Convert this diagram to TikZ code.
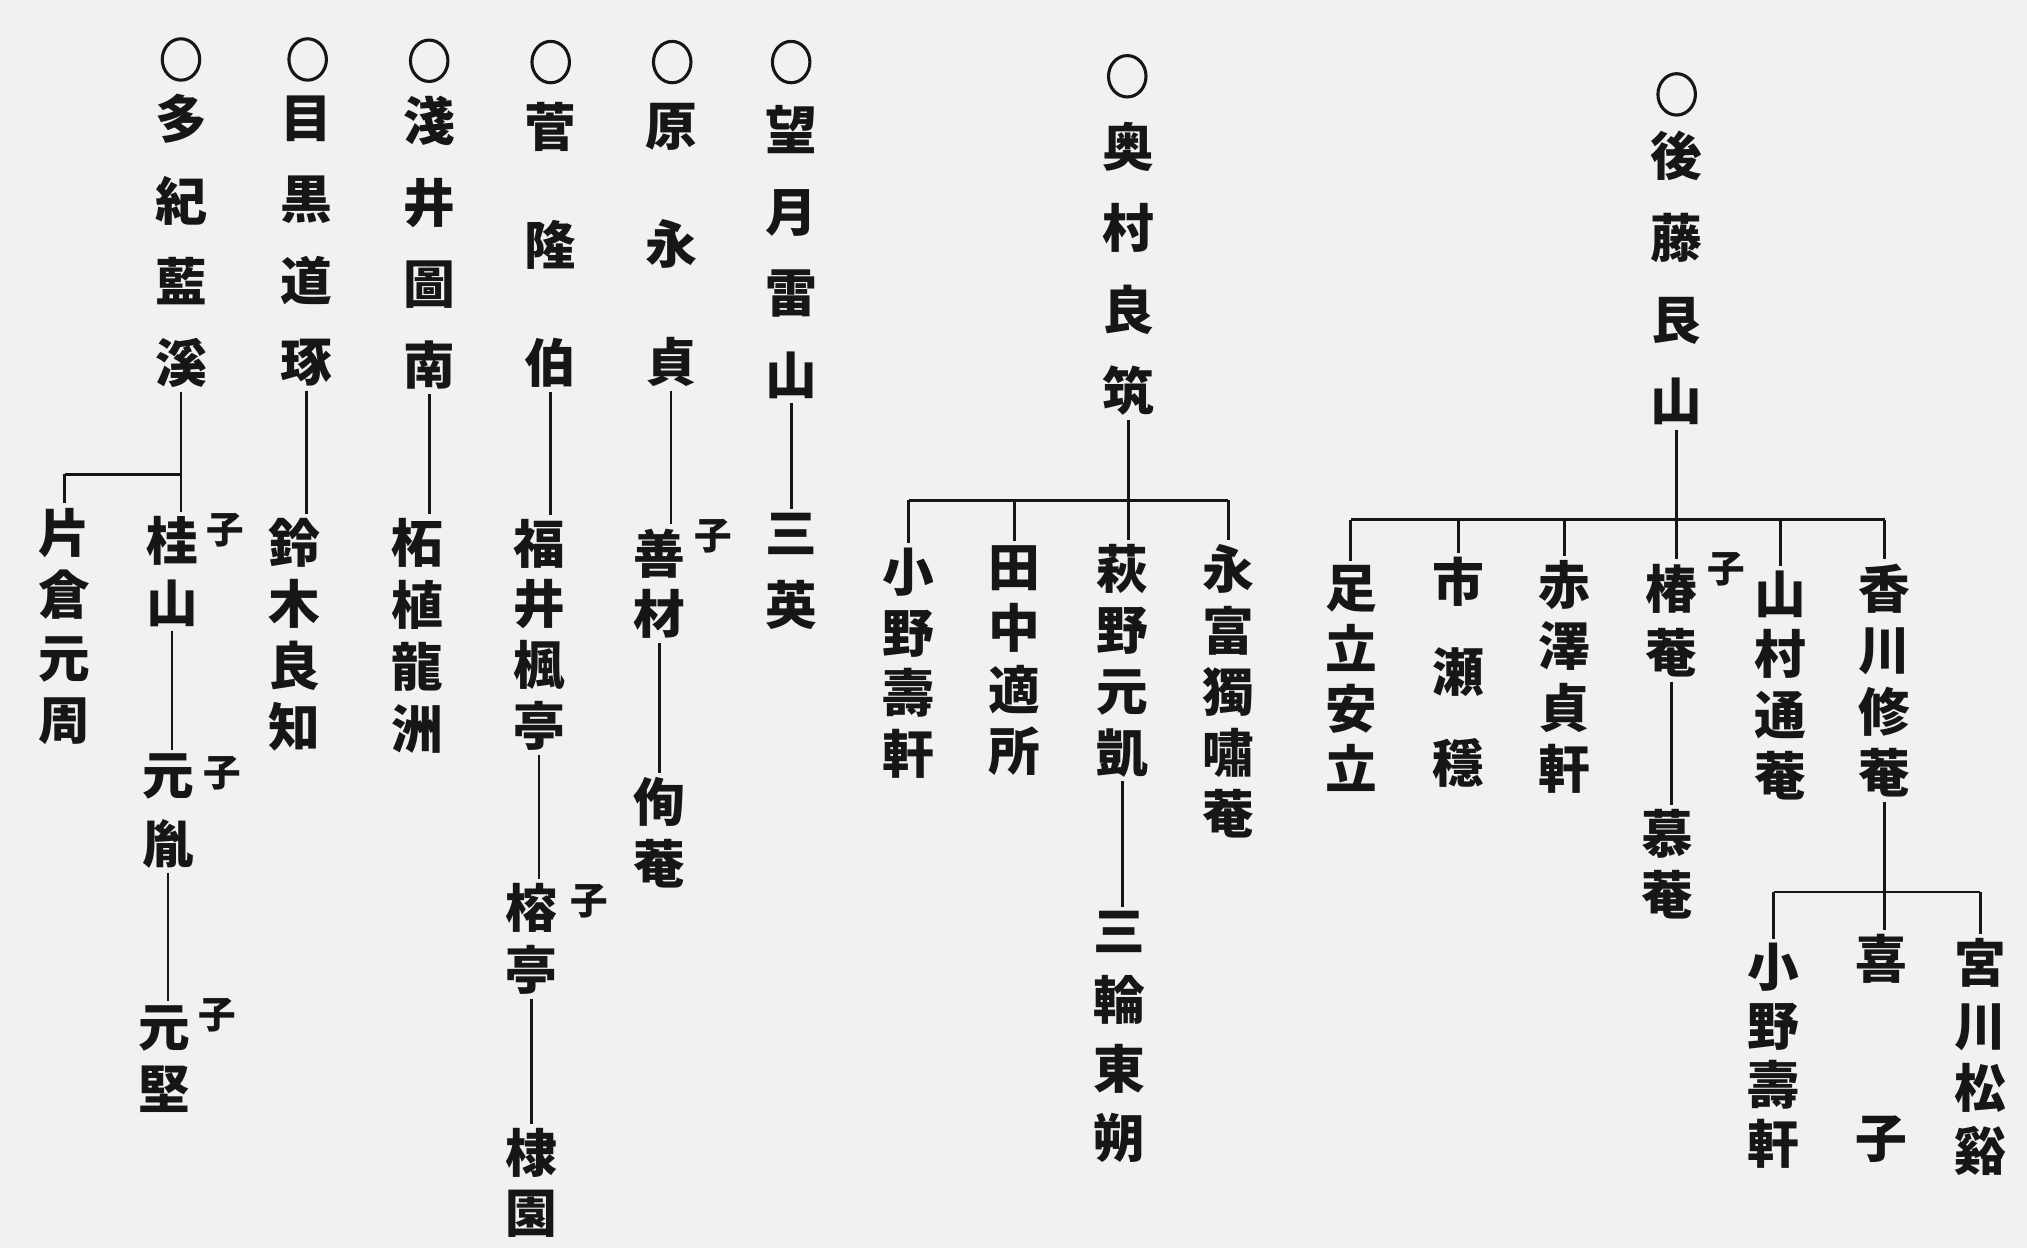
\documentclass[tikz,border=0pt]{standalone}
\usepackage{fontspec}
\usetikzlibrary{shapes.geometric}
\newfontfamily\cjk{Noto Sans CJK JP}
\definecolor{ink}{HTML}{161616}
\definecolor{paper}{HTML}{F1F1EF}
\begin{document}
\begin{tikzpicture}[x=0.5pt,y=-0.5pt,
  vn/.style={font=\cjk\bfseries\fontsize{20}{#1}\selectfont, align=center, inner sep=0pt, text=ink},
  sub/.style={font=\cjk\bfseries\fontsize{14.5}{14.5}\selectfont, inner sep=0pt, text=ink},
  ring/.style={ellipse, draw=ink, line width=1.2pt, minimum width=14.5pt, minimum height=16pt, inner sep=0pt},
  link/.style={draw=ink, line width=1.1pt, shorten <=1.5pt, shorten >=1.5pt},
  bar/.style={draw=ink, line width=1.1pt}]
\fill[paper] (0,0) rectangle (1568,965);
\useasboundingbox (0,0) rectangle (1568,965);
% top row
\node[ring] (r1) at (140,46) {};
\node[vn=31.5] (a1) at (140,186.5) {多\\紀\\藍\\溪};
\node[ring] (r2) at (238,46) {};
\node[vn=31.5] (a2) at (237,186.5) {目\\黒\\道\\琢};
\node[ring] (r3) at (332,47) {};
\node[vn=31.5] (a3) at (332,188) {淺\\井\\圖\\南};
\node[ring] (r4) at (426,48) {};
\node[vn=45.75] (a4) at (426,189.5) {菅\\隆\\伯};
\node[ring] (r5) at (520,48) {};
\node[vn=45.75] (a5) at (519,189.5) {原\\永\\貞};
\node[ring] (r6) at (612,48) {};
\node[vn=31.5] (a6) at (612,195) {望\\月\\雷\\山};
\node[ring] (r7) at (872,59) {};
\node[vn=31.5] (a7) at (873,208) {奥\\村\\良\\筑};
\node[ring] (r8) at (1297,73) {};
\node[vn=31.7] (a8) at (1297,215) {後\\藤\\艮\\山};
% column 1
\node[vn=24] (b1) at (133,442) {桂\\山};
\node[sub] (s1) at (174,410) {子};
\node[vn=24.2] (b1k) at (50,484.5) {片\\倉\\元\\周};
\node[vn=26.5] (c1) at (130,627.5) {元\\胤};
\node[sub] (s2) at (172,598) {子};
\node[vn=24] (d1) at (127,819) {元\\堅};
\node[sub] (s3) at (168,785) {子};
% columns 2-6
\node[vn=23.7] (b2) at (228,491) {鈴\\木\\良\\知};
\node[vn=24] (b3) at (323,492) {柘\\植\\龍\\洲};
\node[vn=23.5] (b4) at (417,491) {福\\井\\楓\\亭};
\node[vn=24] (c4) at (411,726) {榕\\亭};
\node[sub] (s4) at (456,697) {子};
\node[vn=23] (d4) at (411,915) {棣\\園};
\node[vn=23.5] (b5) at (510,451.5) {善\\材};
\node[sub] (s5) at (552,415) {子};
\node[vn=24] (c5) at (510,644) {侚\\菴};
\node[vn=28] (b6) at (612,442) {三\\英};
% Okumura
\node[vn=23.5] (k1) at (703,513) {小\\野\\壽\\軒};
\node[vn=23.7] (k2) at (785,511) {田\\中\\適\\所};
\node[vn=23.7] (k3) at (868,511) {萩\\野\\元\\凱};
\node[vn=23.7] (k4) at (950,535) {永\\富\\獨\\嘯\\菴};
\node[vn=26.7] (k5) at (866,802) {三\\輪\\東\\朔};
% Goto
\node[vn=23.3] (g1) at (1045,525) {足\\立\\安\\立};
\node[vn=35] (g2) at (1128,520) {市\\瀬\\穩};
\node[vn=23.8] (g3) at (1210,523.5) {赤\\澤\\貞\\軒};
\node[vn=25] (g4) at (1293,480) {椿\\菴};
\node[sub] (s6) at (1335,440) {子};
\node[vn=23.5] (g5) at (1290,668.5) {慕\\菴};
\node[vn=23.5] (g6) at (1377,530) {山\\村\\通\\菴};
\node[vn=23.8] (g7) at (1458,526.5) {香\\川\\修\\菴};
\node[vn=22.8] (h1) at (1372,816.5) {小\\野\\壽\\軒};
\node[vn=69] (h2) at (1455,811) {喜\\子};
\node[vn=24.2] (h3) at (1532,817.5) {宮\\川\\松\\谿};
% branch coordinates
\coordinate (j1) at (140,367);
\coordinate (j7) at (872,387);
\coordinate (j8) at (1297,402);
\coordinate (j9) at (1456,690);
% connectors column 1
\draw[link] (a1.south) -- (a1.south |- b1.north);
\draw[bar] (j1) -- (j1 -| b1k.north);
\draw[link, shorten <=0pt] (j1 -| b1k.north) -- (b1k.north);
\draw[link] (b1.south) -- (b1.south |- c1.north);
\draw[link] (c1.south) -- (c1.south |- d1.north);
% columns 2-6
\draw[link] (a2.south) -- (a2.south |- b2.north);
\draw[link] (a3.south) -- (a3.south |- b3.north);
\draw[link] (a4.south) -- (a4.south |- b4.north);
\draw[link] (b4.south) -- (b4.south |- c4.north);
\draw[link] (c4.south) -- (c4.south |- d4.north);
\draw[link] (a5.south) -- (a5.south |- b5.north);
\draw[link] (b5.south) -- (b5.south |- c5.north);
\draw[link] (a6.south) -- (a6.south |- b6.north);
% Okumura
\draw[link] (a7.south) -- (a7.south |- k3.north);
\draw[bar] (j7 -| k1.north) -- (j7 -| k4.north);
\draw[link, shorten <=0pt] (j7 -| k1.north) -- (k1.north);
\draw[link, shorten <=0pt] (j7 -| k2.north) -- (k2.north);
\draw[link, shorten <=0pt] (j7 -| k4.north) -- (k4.north);
\draw[link] (k3.south) -- (k3.south |- k5.north);
% Goto
\draw[link] (a8.south) -- (a8.south |- g4.north);
\draw[bar] (j8 -| g1.north) -- (j8 -| g7.north);
\draw[link, shorten <=0pt] (j8 -| g1.north) -- (g1.north);
\draw[link, shorten <=0pt] (j8 -| g2.north) -- (g2.north);
\draw[link, shorten <=0pt] (j8 -| g3.north) -- (g3.north);
\draw[link, shorten <=0pt] (j8 -| g6.north) -- (g6.north);
\draw[link, shorten <=0pt] (j8 -| g7.north) -- (g7.north);
\draw[link] (g4.south) -- (g4.south |- g5.north);
\draw[link] (g7.south) -- (g7.south |- h2.north);
\draw[bar] (j9 -| h1.north) -- (j9 -| h3.north);
\draw[link, shorten <=0pt] (j9 -| h1.north) -- (h1.north);
\draw[link, shorten <=0pt] (j9 -| h3.north) -- (h3.north);
\end{tikzpicture}
\end{document}
